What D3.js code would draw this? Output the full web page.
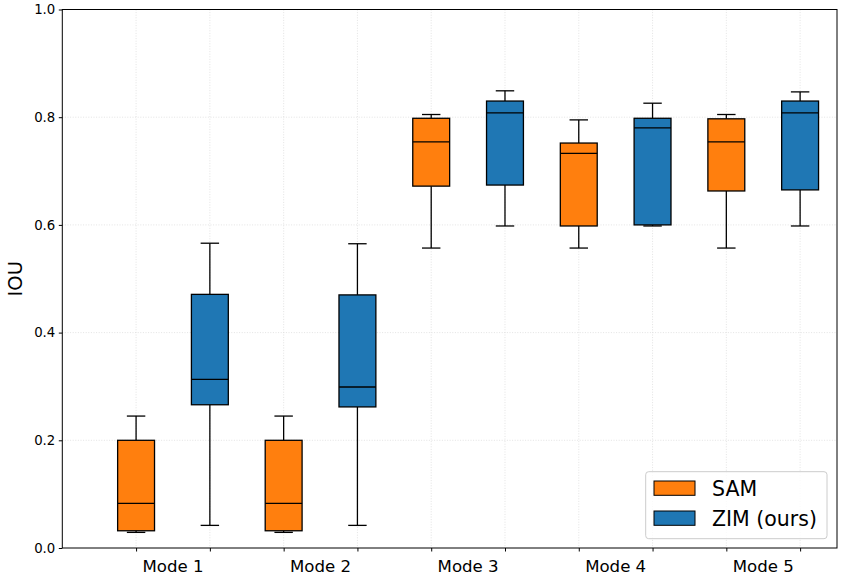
<!DOCTYPE html>
<html><head><meta charset="utf-8">
<script src="https://cdn.jsdelivr.net/npm/d3@7"></script>
<style>body{margin:0;background:#fff}svg{display:block}text{font-family:"DejaVu Sans",sans-serif}</style>
</head><body><svg id="c" width="843" height="580"></svg>
<script>
const modes = ["Mode 1","Mode 2","Mode 3","Mode 4","Mode 5"];
const seriesNames = ["SAM","ZIM (ours)"];
const seriesColors = ["#ff7f0e","#1f77b4"];
// [whisker low, q1, median, q3, whisker high]
const samStats = [
  [0.029,0.032,0.083,0.200,0.245],
  [0.029,0.032,0.083,0.200,0.245],
  [0.557,0.672,0.754,0.798,0.805],
  [0.557,0.598,0.733,0.752,0.795],
  [0.557,0.663,0.754,0.797,0.805]
];
const zimStats = [
  [0.042,0.266,0.313,0.471,0.566],
  [0.042,0.262,0.299,0.470,0.565],
  [0.598,0.674,0.808,0.830,0.849],
  [0.598,0.600,0.780,0.798,0.826],
  [0.598,0.665,0.808,0.830,0.847]
];
const yTicks = [0.0,0.2,0.4,0.6,0.8,1.0];

const svg = d3.select("#c");
const L=62.3, T=9.5, R=837, B=548;
const x = d3.scaleLinear().domain([0,10.5]).range([L,R]);
const y = d3.scaleLinear().domain([0,1]).range([B,T]);

const boxes = [];
modes.forEach((m,i)=>{
  boxes.push({pos:2*i+1, s:samStats[i], c:seriesColors[0]});
  boxes.push({pos:2*i+2, s:zimStats[i], c:seriesColors[1]});
});

// grid
const grid = svg.append("g").attr("stroke","#dcdcdc").attr("stroke-width",0.8).attr("stroke-dasharray","1,1.6");
yTicks.slice(1,-1).forEach(t=>grid.append("line").attr("x1",L).attr("x2",R).attr("y1",y(t)).attr("y2",y(t)));
boxes.forEach(b=>grid.append("line").attr("x1",x(b.pos)).attr("x2",x(b.pos)).attr("y1",T).attr("y2",B));

// boxes
const bw = 0.5, cw = 0.25;
const g = svg.append("g").attr("stroke","#000").attr("stroke-width",1.3);
boxes.forEach(b=>{
  const [lo,q1,med,q3,hi]=b.s, cx=x(b.pos);
  g.append("line").attr("x1",cx).attr("x2",cx).attr("y1",y(lo)).attr("y2",y(q1));
  g.append("line").attr("x1",cx).attr("x2",cx).attr("y1",y(q3)).attr("y2",y(hi));
  g.append("line").attr("x1",x(b.pos-cw/2)).attr("x2",x(b.pos+cw/2)).attr("y1",y(lo)).attr("y2",y(lo));
  g.append("line").attr("x1",x(b.pos-cw/2)).attr("x2",x(b.pos+cw/2)).attr("y1",y(hi)).attr("y2",y(hi));
  g.append("rect").attr("x",x(b.pos-bw/2)).attr("width",x(bw)-x(0)).attr("y",y(q3)).attr("height",y(q1)-y(q3)).attr("fill",b.c);
  g.append("line").attr("x1",x(b.pos-bw/2)).attr("x2",x(b.pos+bw/2)).attr("y1",y(med)).attr("y2",y(med));
});

// axes
const yAxis = d3.axisLeft(y).tickValues(yTicks).tickFormat(d3.format(".1f")).tickSize(3.5).tickPadding(3.5);
const ya = svg.append("g").attr("transform",`translate(${L},0)`).call(yAxis);
ya.selectAll("text").attr("font-size","13.3px").attr("font-family","DejaVu Sans").attr("fill","#000");
ya.select(".domain").remove();
const xAxis = d3.axisBottom(x).tickValues(boxes.map(b=>b.pos)).tickFormat("").tickSize(3.5);
const xa = svg.append("g").attr("transform",`translate(0,${B})`).call(xAxis);
xa.select(".domain").remove();
xa.selectAll("line").attr("stroke","#000");
ya.selectAll("line").attr("stroke","#000");
svg.append("g").selectAll("text").data(modes).join("text")
  .attr("x",(d,i)=>x(2*i+1.5)).attr("y",572).attr("text-anchor","middle")
  .attr("font-size","16.6px").text(d=>d);
svg.append("rect").attr("x",L).attr("y",T).attr("width",R-L).attr("height",B-T).attr("fill","none").attr("stroke","#000").attr("stroke-width",1);

svg.append("text").attr("transform",`translate(22,${(T+B)/2}) rotate(-90)`).attr("text-anchor","middle")
  .attr("font-size","19.5px").text("IOU");

// legend
const lg = svg.append("g");
lg.append("rect").attr("x",645.7).attr("y",471.7).attr("width",181.3).attr("height",67).attr("rx",3)
  .attr("fill","#fff").attr("fill-opacity",0.8).attr("stroke","#cccccc").attr("stroke-width",1);
seriesNames.forEach((n,i)=>{
  const yy = 481 + i*30;
  lg.append("rect").attr("x",654).attr("y",yy).attr("width",41).attr("height",14.3).attr("fill",seriesColors[i]).attr("stroke","#000").attr("stroke-width",1);
  lg.append("text").attr("x",712).attr("y",yy+14.5).attr("font-size","20.5px").text(n);
});
</script></body></html>
